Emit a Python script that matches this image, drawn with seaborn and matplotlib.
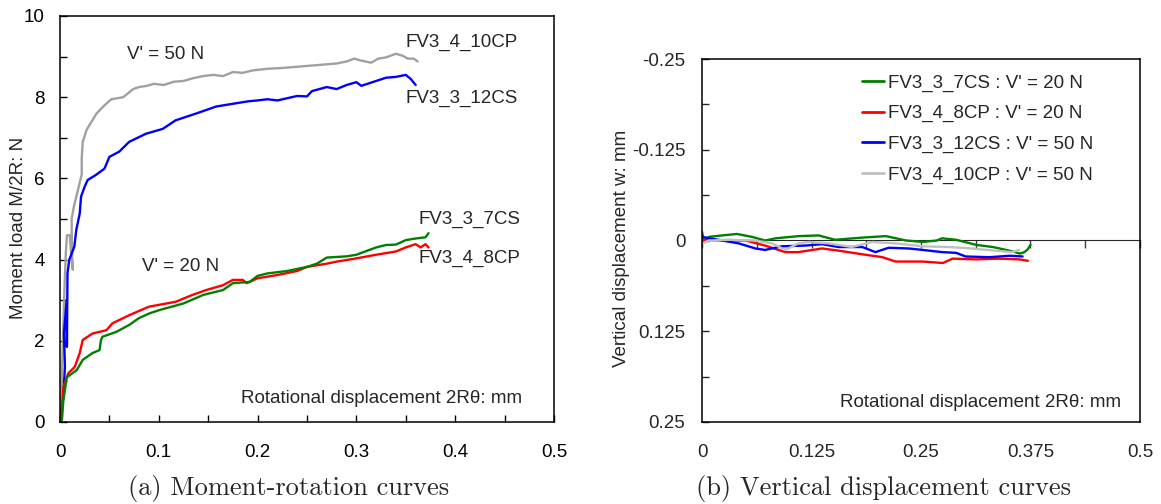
import numpy as np
import pandas as pd
import matplotlib
matplotlib.use("Agg")
import matplotlib.pyplot as plt
from matplotlib.ticker import MultipleLocator, FuncFormatter, NullFormatter
import seaborn as sns

# --- (a) moment-rotation curves: rotational displacement [mm] vs M/2R [N] ---
x_10cp = [0, 0.0017, 0.003, 0.004, 0.005, 0.006, 0.007, 0.010, 0.011, 0.012, 0.013, 0.012, 0.0118,
          0.014, 0.017, 0.020, 0.022, 0.022, 0.023, 0.027, 0.032, 0.037, 0.045, 0.052, 0.064, 0.074,
          0.080, 0.088, 0.095, 0.105, 0.115, 0.125, 0.135, 0.145, 0.155, 0.165, 0.175, 0.185, 0.195,
          0.21, 0.225, 0.24, 0.255, 0.265, 0.28, 0.29, 0.298, 0.305, 0.315, 0.322, 0.33, 0.34,
          0.347, 0.352, 0.358, 0.362]
y_10cp = [0, 0.95, 2.0, 2.9, 3.6, 4.2, 4.6, 4.6, 4.2, 3.95, 3.75, 4.3, 5.0,
          5.3, 5.6, 5.9, 6.1, 6.5, 6.9, 7.2, 7.4, 7.6, 7.8, 7.95, 8.0, 8.2,
          8.25, 8.28, 8.33, 8.3, 8.38, 8.4, 8.47, 8.52, 8.55, 8.52, 8.62, 8.6, 8.66,
          8.7, 8.72, 8.75, 8.78, 8.8, 8.83, 8.88, 8.95, 8.9, 8.85, 8.95, 8.98, 9.07,
          9.02, 8.95, 8.95, 8.88]

x_12cs = [0, 0.002, 0.0034, 0.005, 0.004, 0.0067, 0.007, 0.0076, 0.0094, 0.0145, 0.0165, 0.020,
          0.0213, 0.025, 0.028, 0.036, 0.045, 0.050, 0.060, 0.070, 0.087, 0.104, 0.117, 0.138,
          0.158, 0.178, 0.191, 0.20, 0.21, 0.22, 0.24, 0.25, 0.255, 0.27, 0.28, 0.29, 0.30,
          0.305, 0.32, 0.33, 0.34, 0.35, 0.355, 0.36]
y_12cs = [0, 0.3, 0.62, 1.37, 2.18, 3.0, 1.85, 3.66, 4.0, 4.32, 4.73, 5.14,
          5.55, 5.8, 5.96, 6.08, 6.24, 6.53, 6.66, 6.9, 7.1, 7.22, 7.43, 7.6,
          7.77, 7.85, 7.9, 7.92, 7.95, 7.92, 8.03, 8.02, 8.15, 8.25, 8.2, 8.3, 8.37,
          8.28, 8.4, 8.48, 8.5, 8.55, 8.45, 8.3]

x_8cp = [0, 0.0015, 0.0027, 0.0034, 0.0084, 0.015, 0.020, 0.023, 0.033, 0.047, 0.053, 0.070,
         0.090, 0.117, 0.134, 0.148, 0.165, 0.175, 0.185, 0.189, 0.20, 0.22, 0.24, 0.25, 0.27,
         0.28, 0.30, 0.32, 0.34, 0.35, 0.36, 0.365, 0.37, 0.373]
y_8cp = [0, 0.3, 0.54, 0.86, 1.2, 1.36, 1.7, 2.02, 2.18, 2.26, 2.43, 2.63,
         2.84, 2.96, 3.13, 3.25, 3.37, 3.5, 3.5, 3.42, 3.54, 3.62, 3.72, 3.82, 3.9,
         3.95, 4.03, 4.12, 4.2, 4.3, 4.38, 4.3, 4.38, 4.3]

x_7cs = [0, 0.002, 0.0034, 0.005, 0.0068, 0.017, 0.023, 0.033, 0.040, 0.0415, 0.043, 0.057,
         0.070, 0.080, 0.091, 0.101, 0.125, 0.145, 0.165, 0.175, 0.192, 0.20, 0.21, 0.23, 0.25,
         0.26, 0.27, 0.29, 0.30, 0.32, 0.33, 0.34, 0.35, 0.36, 0.37, 0.373]
y_7cs = [0, 0.05, 0.54, 0.79, 1.1, 1.28, 1.53, 1.7, 1.77, 2.02, 2.1, 2.22,
         2.39, 2.56, 2.68, 2.76, 2.92, 3.13, 3.25, 3.42, 3.45, 3.6, 3.66, 3.72, 3.82,
         3.9, 4.05, 4.08, 4.12, 4.3, 4.36, 4.37, 4.48, 4.52, 4.55, 4.65]

# --- (b) vertical displacement curves: rotational displacement [mm] vs w [mm] ---
xv_7cs = [0, 0.002, 0.008, 0.023, 0.040, 0.057, 0.072, 0.084, 0.110, 0.133, 0.152, 0.183, 0.210,
          0.233, 0.252, 0.268, 0.274, 0.290, 0.313, 0.332, 0.351, 0.363, 0.368, 0.372, 0.375]
wv_7cs = [-0.012, 0.0, -0.005, -0.007, -0.009, -0.005, 0.0, -0.003, -0.006, -0.007, -0.001, -0.004, -0.006,
          0.0, 0.002, 0.0, -0.003, -0.001, 0.006, 0.009, 0.014, 0.018, 0.016, 0.012, 0.006]

xv_8cp = [0, 0.023, 0.050, 0.072, 0.095, 0.110, 0.137, 0.156, 0.183, 0.206, 0.221, 0.252, 0.275,
          0.286, 0.313, 0.339, 0.362, 0.372]
wv_8cp = [-0.001, 0.0, 0.0, 0.007, 0.016, 0.016, 0.011, 0.014, 0.019, 0.023, 0.029, 0.029, 0.031,
          0.025, 0.026, 0.025, 0.026, 0.028]

xv_12cs = [0, 0.023, 0.042, 0.061, 0.072, 0.091, 0.118, 0.137, 0.156, 0.183, 0.198, 0.213, 0.236,
           0.252, 0.274, 0.290, 0.301, 0.328, 0.351, 0.366]
wv_12cs = [-0.005, 0.0, 0.004, 0.011, 0.013, 0.008, 0.007, 0.005, 0.009, 0.009, 0.016, 0.010, 0.011,
           0.013, 0.016, 0.017, 0.022, 0.023, 0.021, 0.022]

xv_10cp = [0, 0.008, 0.031, 0.061, 0.080, 0.095, 0.110, 0.122, 0.145, 0.171, 0.194, 0.221, 0.252,
           0.282, 0.308, 0.335, 0.354, 0.362]
wv_10cp = [0.004, 0.0, -0.001, 0.0, 0.004, 0.013, 0.004, 0.002, 0.004, 0.009, 0.002, 0.004, 0.008,
           0.009, 0.011, 0.014, 0.016, 0.013]

names_a = ["FV3_4_10CP", "FV3_3_12CS", "FV3_4_8CP", "FV3_3_7CS"]
colors_a = {"FV3_4_10CP": "#a0a0a0", "FV3_3_12CS": "#0000ff",
            "FV3_4_8CP": "#ff0000", "FV3_3_7CS": "#008000"}
legend_b = ["FV3_3_7CS : V' = 20 N", "FV3_4_8CP : V' = 20 N",
            "FV3_3_12CS : V' = 50 N", "FV3_4_10CP : V' = 50 N"]
colors_b = {legend_b[0]: "#008000", legend_b[1]: "#ff0000",
            legend_b[2]: "#0000ff", legend_b[3]: "#c0c0c0"}

df_a = pd.concat([
    pd.DataFrame({"x": x_10cp, "y": y_10cp, "spec": "FV3_4_10CP"}),
    pd.DataFrame({"x": x_12cs, "y": y_12cs, "spec": "FV3_3_12CS"}),
    pd.DataFrame({"x": x_8cp, "y": y_8cp, "spec": "FV3_4_8CP"}),
    pd.DataFrame({"x": x_7cs, "y": y_7cs, "spec": "FV3_3_7CS"}),
], ignore_index=True)

df_b = pd.concat([
    pd.DataFrame({"x": xv_10cp, "w": wv_10cp, "spec": legend_b[3]}),
    pd.DataFrame({"x": xv_12cs, "w": wv_12cs, "spec": legend_b[2]}),
    pd.DataFrame({"x": xv_8cp, "w": wv_8cp, "spec": legend_b[1]}),
    pd.DataFrame({"x": xv_7cs, "w": wv_7cs, "spec": legend_b[0]}),
], ignore_index=True)

sns.set_style("ticks")
plt.rcParams["font.family"] = ["Liberation Sans", "DejaVu Sans"]
plt.rcParams["axes.unicode_minus"] = False
FS = 13.5

fig = plt.figure(figsize=(11.61, 5.04), dpi=100)
W, H = 1161, 504
ax1 = fig.add_axes([60 / W, 82 / H, 494 / W, 406 / H])
ax2 = fig.add_axes([702 / W, 82 / H, 438 / W, 363 / H])

# ---------- (a) ----------
sns.lineplot(data=df_a, x="x", y="y", hue="spec", hue_order=names_a, palette=colors_a,
             sort=False, estimator=None, linewidth=1.7, legend=False, ax=ax1)
ax1.set_xlim(0, 0.5)
ax1.set_ylim(0, 10)
ax1.xaxis.set_major_locator(MultipleLocator(0.1))
ax1.xaxis.set_minor_locator(MultipleLocator(0.05))
ax1.yaxis.set_major_locator(MultipleLocator(2))
ax1.yaxis.set_minor_locator(MultipleLocator(1))
ax1.xaxis.set_major_formatter(FuncFormatter(lambda v, p: f"{v:g}"))
ax1.tick_params(which="both", direction="in", length=5, width=1, colors="black")
ax1.tick_params(axis="x", which="major", pad=15.5, labelsize=FS)
ax1.tick_params(axis="y", which="major", pad=11, labelsize=FS)
ax1.set_xlabel("")
ax1.set_ylabel("Moment load M/2R: N", fontsize=FS)
ax1.yaxis.set_label_coords(-0.067, 0.478)

ax1.text(0.350, 9.36, "FV3_4_10CP", fontsize=FS, va="center", ha="left")
ax1.text(0.350, 7.98, "FV3_3_12CS", fontsize=FS, va="center", ha="left")
ax1.text(0.363, 4.98, "FV3_3_7CS", fontsize=FS, va="center", ha="left")
ax1.text(0.363, 4.04, "FV3_4_8CP", fontsize=FS, va="center", ha="left")
ax1.text(0.068, 9.06, "V' = 50 N", fontsize=FS, va="center", ha="left")
ax1.text(0.083, 3.84, "V' = 20 N", fontsize=FS, va="center", ha="left")
ax1.text(0.4676, 0.59, "Rotational displacement 2Rθ: mm", fontsize=FS, va="center", ha="right")

# ---------- (b) ----------
sns.lineplot(data=df_b, x="x", y="w", hue="spec", hue_order=legend_b, palette=colors_b,
             sort=False, estimator=None, linewidth=1.7, ax=ax2)
ax2.set_xlim(0, 0.5)
ax2.set_ylim(0.25, -0.25)
ax2.xaxis.set_major_locator(MultipleLocator(0.125))
ax2.yaxis.set_major_locator(MultipleLocator(0.125))
ax2.yaxis.set_minor_locator(MultipleLocator(0.0625))
fmt = FuncFormatter(lambda v, p: f"{v:g}")
ax2.xaxis.set_major_formatter(fmt)
ax2.yaxis.set_major_formatter(fmt)
ax2.tick_params(axis="x", which="both", length=0, pad=16, labelsize=FS)
ax2.tick_params(axis="y", which="both", direction="in", length=5, width=1, pad=12, labelsize=FS)
ax2.set_xlabel("")
ax2.set_ylabel("Vertical displacement w: mm", fontsize=FS)
ax2.yaxis.set_label_coords(-0.164, 0.479)

# axis crossing at w = 0 with its own ticks
sec = ax2.secondary_xaxis(0.5)
sec.xaxis.set_major_locator(MultipleLocator(0.0625))
sec.xaxis.set_major_formatter(NullFormatter())
sec.tick_params(axis="x", direction="in", length=6, width=1, colors="#404040")
sec.spines["bottom"].set_color("#808080")
sec.spines["bottom"].set_linewidth(1.5)

ax2.text(0.478, 0.223, "Rotational displacement 2Rθ: mm", fontsize=FS, va="center", ha="right")

leg = ax2.legend(loc="upper left", bbox_to_anchor=(0.365, 0.958), frameon=False,
                 fontsize=FS, handlelength=1.2, handletextpad=0.2, labelspacing=0.72,
                 borderaxespad=0, borderpad=0)
for line in leg.get_lines():
    line.set_linewidth(2)

for ax in (ax1, ax2):
    for s in ax.spines.values():
        s.set_visible(True)
        s.set_color("black")
        s.set_linewidth(1.1)

fig.text(289 / W, 1 - 488 / H, "(a) Moment-rotation curves", family="cmr10", fontsize=19,
         ha="center", va="center")
fig.text(883 / W, 1 - 488 / H, "(b) Vertical displacement curves", family="cmr10", fontsize=19,
         ha="center", va="center")

fig.savefig("out.png", dpi=100)
